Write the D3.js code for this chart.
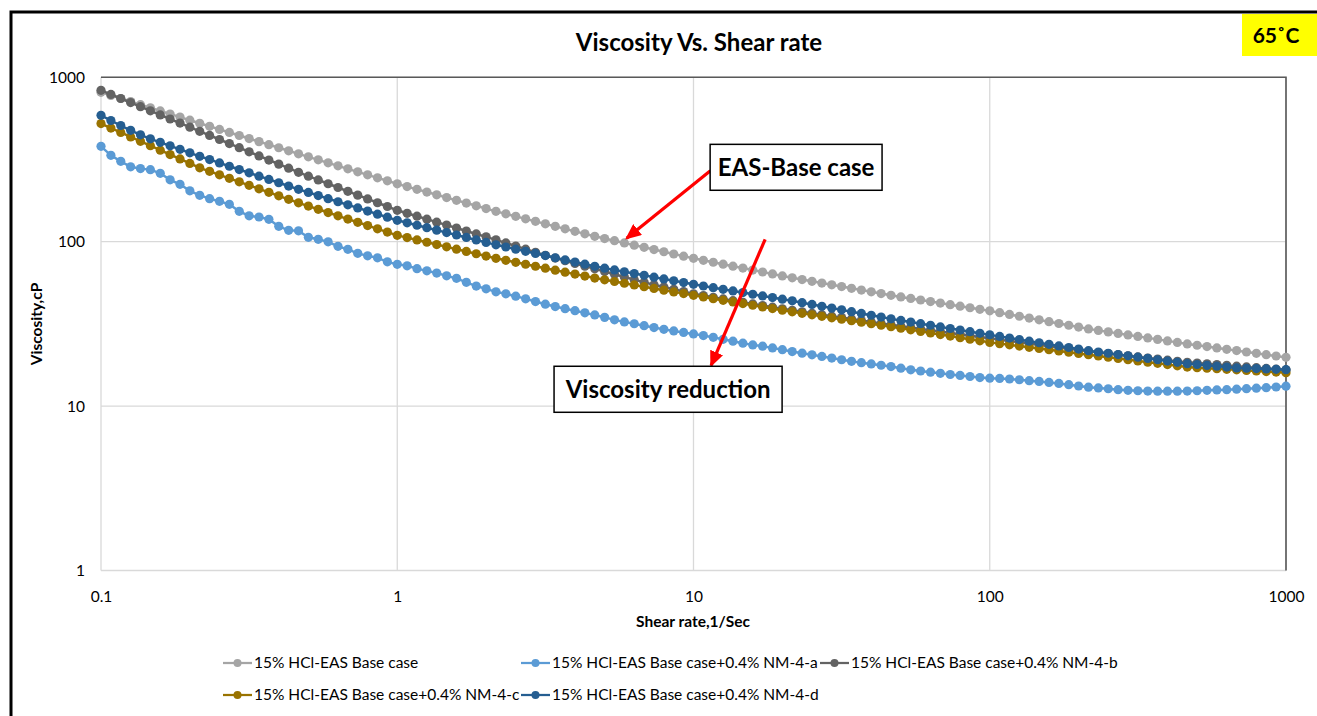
<!DOCTYPE html>
<html>
<head>
<meta charset="utf-8">
<script src="https://d3js.org/d3.v7.min.js"></script>
<style>
  body { margin: 0; background: #fff; }
  svg { display: block; }
  text { font-family: Lato, "Open Sans", sans-serif; fill: #000; }
</style>
</head>
<body>
<svg id="chart" width="1317" height="716"></svg>
<script>
// ==================
// Data
// ==================
const shearRate = [
  0.1, 0.108, 0.1166, 0.1259, 0.1359, 0.1468, 0.1585, 0.1711, 0.1848, 0.1995,
  0.2154, 0.2326, 0.2512, 0.2712, 0.2929, 0.3162, 0.3415, 0.3687, 0.3981, 0.4299,
  0.4642, 0.5012, 0.5412, 0.5843, 0.631, 0.6813, 0.7356, 0.7943, 0.8577, 0.9261,
  1, 1.08, 1.166, 1.259, 1.359, 1.468, 1.585, 1.711, 1.848, 1.995,
  2.154, 2.326, 2.512, 2.712, 2.929, 3.162, 3.415, 3.687, 3.981, 4.299,
  4.642, 5.012, 5.412, 5.843, 6.31, 6.813, 7.356, 7.943, 8.577, 9.261,
  10, 10.8, 11.66, 12.59, 13.59, 14.68, 15.85, 17.11, 18.48, 19.95,
  21.54, 23.26, 25.12, 27.12, 29.29, 31.62, 34.15, 36.87, 39.81, 42.99,
  46.42, 50.12, 54.12, 58.43, 63.1, 68.13, 73.56, 79.43, 85.77, 92.61,
  100, 108, 116.6, 125.9, 135.9, 146.8, 158.5, 171.1, 184.8, 199.5,
  215.4, 232.6, 251.2, 271.2, 292.9, 316.2, 341.5, 368.7, 398.1, 429.9,
  464.2, 501.2, 541.2, 584.3, 631, 681.3, 735.6, 794.3, 857.7, 926.1,
  1000
];

const baseCase = [
  810.5, 776.1, 743.1, 711.5, 681.3, 652.3, 624.6, 598.1, 572.7, 548.3,
  525.0, 503.0, 482.0, 461.8, 442.5, 424.0, 406.2, 389.2, 372.9, 357.3,
  342.4, 328.3, 314.8, 301.8, 289.4, 277.5, 266.1, 255.1, 244.6, 234.6,
  224.9, 216.4, 208.2, 200.4, 192.8, 185.5, 178.5, 171.8, 165.3, 159.0,
  153.0, 147.7, 142.6, 137.7, 133.0, 128.4, 124.0, 119.7, 115.6, 111.6,
  107.8, 104.5, 101.4, 98.3, 95.3, 92.4, 89.6, 86.9, 84.2, 81.7,
  79.2, 77.07, 74.99, 72.97, 71.0, 69.09, 67.23, 65.41, 63.65, 61.94,
  60.27, 58.81, 57.39, 56.0, 54.64, 53.32, 52.03, 50.77, 49.54, 48.34,
  47.17, 46.16, 45.16, 44.19, 43.24, 42.32, 41.41, 40.52, 39.65, 38.79,
  37.96, 37.01, 36.09, 35.19, 34.31, 33.46, 32.62, 31.81, 31.02, 30.25,
  29.49, 28.88, 28.28, 27.69, 27.11, 26.55, 26.0, 25.46, 24.93, 24.41,
  23.9, 23.45, 23.01, 22.58, 22.16, 21.75, 21.34, 20.94, 20.55, 20.17,
  19.79
];

const nm4a = [
  380.3, 335.3, 308.3, 285.4, 278.3, 274.4, 260.6, 237.9, 223.4, 203.9,
  191.5, 182.8, 176.0, 168.8, 153.0, 143.7, 141.3, 136.8, 124.0, 117.2,
  116.4, 106.3, 103.4, 99.8, 93.71, 89.85, 84.95, 82.03, 79.76, 75.41,
  72.82, 71.31, 68.56, 66.48, 64.46, 61.98, 59.85, 56.59, 53.73, 51.66,
  49.54, 48.17, 46.64, 44.91, 43.24, 41.69, 40.32, 39.15, 38.07, 36.91,
  35.84, 34.65, 33.46, 32.53, 31.68, 30.85, 30.04, 29.29, 28.64, 28.05,
  27.47, 26.86, 26.19, 25.47, 24.83, 24.14, 23.57, 23.14, 22.6, 22.04,
  21.46, 20.98, 20.52, 20.06, 19.6, 19.14, 18.71, 18.37, 18.04, 17.72,
  17.4, 17.01, 16.63, 16.35, 16.08, 15.82, 15.57, 15.36, 15.14, 14.91,
  14.78, 14.74, 14.62, 14.46, 14.27, 14.12, 13.94, 13.73, 13.5, 13.25,
  13.03, 12.89, 12.75, 12.59, 12.47, 12.4, 12.34, 12.33, 12.33, 12.33,
  12.34, 12.4, 12.47, 12.54, 12.59, 12.68, 12.77, 12.86, 12.95, 13.07,
  13.22
];

const nm4b = [
  833.5, 787.0, 743.0, 701.6, 662.4, 625.4, 590.5, 557.6, 526.4, 497.1,
  469.3, 443.1, 418.4, 395.0, 373.0, 352.2, 332.5, 313.9, 296.4, 279.9,
  264.2, 250.5, 237.5, 225.2, 213.6, 202.5, 192.0, 182.0, 172.6, 163.7,
  155.2, 148.9, 142.9, 137.1, 131.5, 126.2, 121.1, 116.2, 111.5, 107.0,
  102.6, 98.28, 94.11, 90.11, 86.28, 82.61, 79.54, 76.59, 73.75, 71.01,
  68.37, 65.83, 63.39, 61.03, 58.77, 56.59, 54.79, 53.06, 51.37, 49.74,
  48.17, 47.04, 45.93, 44.85, 43.79, 42.76, 41.81, 40.89, 39.98, 39.09,
  38.23, 37.46, 36.71, 35.97, 35.25, 34.54, 33.84, 33.16, 32.49, 31.84,
  31.2, 30.62, 30.04, 29.48, 28.93, 28.39, 27.85, 27.33, 26.82, 26.32,
  25.83, 25.36, 24.91, 24.46, 24.02, 23.58, 23.16, 22.74, 22.33, 21.92,
  21.52, 21.19, 20.87, 20.55, 20.23, 19.92, 19.62, 19.32, 19.02, 18.73,
  18.45, 18.26, 18.07, 17.88, 17.69, 17.5, 17.32, 17.14, 16.96, 16.78,
  16.61
];

const nm4c = [
  522.8, 491.4, 461.9, 434.1, 408.1, 383.6, 360.5, 338.9, 318.6, 299.4,
  281.4, 268.0, 255.1, 242.9, 231.3, 220.2, 209.7, 199.7, 190.1, 181.0,
  172.4, 164.7, 157.4, 150.4, 143.7, 137.3, 131.2, 125.3, 119.7, 114.4,
  109.3, 105.9, 102.5, 99.25, 96.1, 93.05, 90.1, 87.25, 84.48, 81.8,
  79.2, 77.04, 74.95, 72.91, 70.92, 68.99, 67.11, 65.29, 63.51, 61.78,
  60.1, 58.66, 57.26, 55.89, 54.55, 53.25, 51.97, 50.73, 49.51, 48.33,
  47.17, 46.09, 45.04, 44.01, 43.0, 42.02, 41.06, 40.12, 39.2, 38.31,
  37.43, 36.66, 35.91, 35.17, 34.45, 33.74, 33.05, 32.37, 31.71, 31.06,
  30.42, 29.76, 29.11, 28.48, 27.86, 27.25, 26.66, 26.08, 25.51, 24.95,
  24.41, 23.99, 23.58, 23.18, 22.79, 22.4, 22.02, 21.64, 21.27, 20.91,
  20.55, 20.2, 19.85, 19.51, 19.17, 18.84, 18.51, 18.2, 17.88, 17.57,
  17.27, 17.14, 17.0, 16.87, 16.74, 16.61, 16.48, 16.35, 16.22, 16.1,
  15.97
];

const nm4d = [
  587.2, 546.0, 509.0, 475.9, 446.8, 422.5, 402.3, 383.0, 364.7, 347.3,
  330.6, 315.7, 301.4, 287.8, 274.8, 262.4, 250.5, 239.2, 228.4, 218.1,
  208.2, 199.4, 190.9, 182.8, 175.0, 167.6, 160.5, 153.6, 147.1, 140.9,
  134.9, 130.3, 125.9, 121.7, 117.6, 113.6, 109.8, 106.1, 102.5, 99.05,
  95.7, 92.86, 90.11, 87.43, 84.84, 82.32, 79.88, 77.51, 75.21, 72.98,
  70.81, 69.05, 67.33, 65.65, 64.02, 62.42, 60.87, 59.35, 57.88, 56.43,
  55.03, 53.77, 52.54, 51.34, 50.17, 49.02, 47.9, 46.81, 45.74, 44.69,
  43.67, 42.58, 41.52, 40.49, 39.48, 38.49, 37.53, 36.6, 35.69, 34.8,
  33.93, 33.18, 32.44, 31.72, 31.02, 30.33, 29.66, 29.01, 28.36, 27.73,
  27.12, 26.53, 25.94, 25.38, 24.82, 24.28, 23.74, 23.22, 22.72, 22.22,
  21.73, 21.34, 20.96, 20.58, 20.21, 19.84, 19.49, 19.14, 18.79, 18.45,
  18.12, 17.91, 17.69, 17.49, 17.28, 17.08, 16.99, 16.91, 16.82, 16.74,
  16.65
];

const seriesNames = [
  '15% HCl-EAS Base case',
  '15% HCl-EAS Base case+0.4% NM-4-a',
  '15% HCl-EAS Base case+0.4% NM-4-b',
  '15% HCl-EAS Base case+0.4% NM-4-c',
  '15% HCl-EAS Base case+0.4% NM-4-d'
];
const seriesValues = [baseCase, nm4a, nm4b, nm4c, nm4d];
const seriesColors = ['#a5a5a5', '#5b9bd5', '#636363', '#997300', '#255e91'];

const xTickValues = [0.1, 1, 10, 100, 1000];
const yTickValues = [1, 10, 100, 1000];

// annotation boxes and arrows, in data units (shear rate, viscosity)
const annotationBoxes = [
  { label: 'EAS-Base case', x0: 11.38, x1: 43.3, y0: 391, y1: 205.5 },
  { label: 'Viscosity reduction', x0: 3.383, x1: 19.91, y0: 17.47, y1: 9.17 }
];
const annotationArrows = [
  { from: [11.4, 270], to: [5.95, 105] },
  { from: [17.45, 103.4], to: [11.47, 17.7] }
];

// ==================
// Layout
// ==================
const WIDTH = 1317;
const HEIGHT = 716;
const PLOT_LEFT = 101;
const PLOT_RIGHT = 1286;
const PLOT_TOP = 77.3;
const PLOT_BOTTOM = 570.5;

const svg = d3.select('#chart');

const xScale = d3.scaleLog()
  .domain([0.1, 1000])
  .range([PLOT_LEFT, PLOT_RIGHT]);

const yScale = d3.scaleLog()
  .domain([1, 1000])
  .range([PLOT_BOTTOM, PLOT_TOP]);

// outer frame (runs off the right and bottom edge like the source)
svg.append('rect')
  .attr('x', 11)
  .attr('y', 12)
  .attr('width', WIDTH)
  .attr('height', HEIGHT)
  .attr('fill', 'none')
  .attr('stroke', '#000')
  .attr('stroke-width', 3);

// temperature tag
const tag = svg.append('g');
tag.append('rect')
  .attr('x', 1242)
  .attr('y', 14)
  .attr('width', 76)
  .attr('height', 42)
  .attr('fill', '#ffff00');
tag.append('text')
  .attr('x', 1276)
  .attr('y', 43)
  .attr('text-anchor', 'middle')
  .attr('font-size', 21)
  .attr('font-weight', 700)
  .text('65˚C');

// title
svg.append('text')
  .attr('x', 699)
  .attr('y', 51)
  .attr('text-anchor', 'middle')
  .attr('font-size', 24)
  .attr('font-weight', 700)
  .text('Viscosity Vs. Shear rate');

// ==================
// Grid and axes
// ==================
const grid = svg.append('g');

grid.selectAll('line.vgrid')
  .data(xTickValues)
  .join('line')
  .attr('class', 'vgrid')
  .attr('x1', d => xScale(d))
  .attr('x2', d => xScale(d))
  .attr('y1', PLOT_TOP)
  .attr('y2', PLOT_BOTTOM)
  .attr('stroke', '#d9d9d9')
  .attr('stroke-width', 1.3);

grid.selectAll('line.hgrid')
  .data(yTickValues)
  .join('line')
  .attr('class', 'hgrid')
  .attr('x1', PLOT_LEFT)
  .attr('x2', PLOT_RIGHT)
  .attr('y1', d => yScale(d))
  .attr('y2', d => yScale(d))
  .attr('stroke', '#d9d9d9')
  .attr('stroke-width', 1.3);

// plot area border shows dark on the top and the right
grid.append('path')
  .attr('d', `M${PLOT_LEFT},${PLOT_TOP}H${PLOT_RIGHT}V${PLOT_BOTTOM}`)
  .attr('fill', 'none')
  .attr('stroke', '#595959')
  .attr('stroke-width', 1.6);

const xAxis = d3.axisBottom(xScale)
  .tickValues(xTickValues)
  .tickFormat(d3.format('~g'))
  .tickSize(0)
  .tickPadding(20);

const yAxis = d3.axisLeft(yScale)
  .tickValues(yTickValues)
  .tickFormat(d3.format('~g'))
  .tickSize(0)
  .tickPadding(16);

const xAxisGroup = svg.append('g')
  .attr('transform', `translate(0, ${PLOT_BOTTOM})`)
  .call(xAxis);

const yAxisGroup = svg.append('g')
  .attr('transform', `translate(${PLOT_LEFT}, 0)`)
  .call(yAxis);

[xAxisGroup, yAxisGroup].forEach(g => {
  g.select('.domain').remove();
  g.selectAll('text')
    .attr('font-family', 'Lato, "Open Sans", sans-serif')
    .attr('font-size', 15.5)
    .attr('fill', '#000');
});

svg.append('text')
  .attr('x', 693)
  .attr('y', 627)
  .attr('text-anchor', 'middle')
  .attr('font-size', 15.5)
  .attr('font-weight', 700)
  .text('Shear rate,1/Sec');

svg.append('text')
  .attr('transform', 'translate(42, 324) rotate(-90)')
  .attr('text-anchor', 'middle')
  .attr('font-size', 15.5)
  .attr('font-weight', 700)
  .text('Viscosity,cP');

// ==================
// Series
// ==================
const line = d3.line()
  .x(d => xScale(d[0]))
  .y(d => yScale(d[1]));

seriesValues.forEach((values, i) => {
  const points = shearRate.map((x, j) => [x, values[j]]);
  const g = svg.append('g');

  g.append('path')
    .attr('d', line(points))
    .attr('fill', 'none')
    .attr('stroke', seriesColors[i])
    .attr('stroke-width', 2.5);

  g.selectAll('circle')
    .data(points)
    .join('circle')
    .attr('cx', d => xScale(d[0]))
    .attr('cy', d => yScale(d[1]))
    .attr('r', 4.6)
    .attr('fill', seriesColors[i]);
});

// ==================
// Annotations
// ==================
const defs = svg.append('defs');
defs.append('marker')
  .attr('id', 'redArrow')
  .attr('markerUnits', 'userSpaceOnUse')
  .attr('markerWidth', 16)
  .attr('markerHeight', 14)
  .attr('refX', 14)
  .attr('refY', 7)
  .attr('orient', 'auto')
  .append('path')
  .attr('d', 'M0,0 L16,7 L0,14 Z')
  .attr('fill', '#ff0000');

svg.selectAll('line.arrow')
  .data(annotationArrows)
  .join('line')
  .attr('class', 'arrow')
  .attr('x1', d => xScale(d.from[0]))
  .attr('y1', d => yScale(d.from[1]))
  .attr('x2', d => xScale(d.to[0]))
  .attr('y2', d => yScale(d.to[1]))
  .attr('stroke', '#ff0000')
  .attr('stroke-width', 3.2)
  .attr('marker-end', 'url(#redArrow)');

const boxes = svg.selectAll('g.note')
  .data(annotationBoxes)
  .join('g')
  .attr('class', 'note');

boxes.append('rect')
  .attr('x', d => xScale(d.x0))
  .attr('y', d => yScale(d.y0))
  .attr('width', d => xScale(d.x1) - xScale(d.x0))
  .attr('height', d => yScale(d.y1) - yScale(d.y0))
  .attr('fill', '#fff')
  .attr('stroke', '#000')
  .attr('stroke-width', 1.5);

boxes.append('text')
  .attr('x', d => (xScale(d.x0) + xScale(d.x1)) / 2)
  .attr('y', d => (yScale(d.y0) + yScale(d.y1)) / 2)
  .attr('dy', '0.36em')
  .attr('text-anchor', 'middle')
  .attr('font-size', 24)
  .attr('font-weight', 700)
  .text(d => d.label);

// ==================
// Legend
// ==================
const LEGEND_COLUMNS = [223, 521, 820];
const LEGEND_ROWS = [663, 695];

const legend = svg.selectAll('g.legend-item')
  .data(seriesNames)
  .join('g')
  .attr('class', 'legend-item')
  .attr('transform', (d, i) => `translate(${LEGEND_COLUMNS[i % 3]}, ${LEGEND_ROWS[Math.floor(i / 3)]})`);

legend.append('line')
  .attr('x1', 0)
  .attr('x2', 29)
  .attr('stroke', (d, i) => seriesColors[i])
  .attr('stroke-width', 2.25);

legend.append('circle')
  .attr('cx', 14.5)
  .attr('r', 4)
  .attr('fill', (d, i) => seriesColors[i]);

legend.append('text')
  .attr('x', 31)
  .attr('dy', '0.35em')
  .attr('font-size', 15.5)
  .text(d => d);
</script>
</body>
</html>
